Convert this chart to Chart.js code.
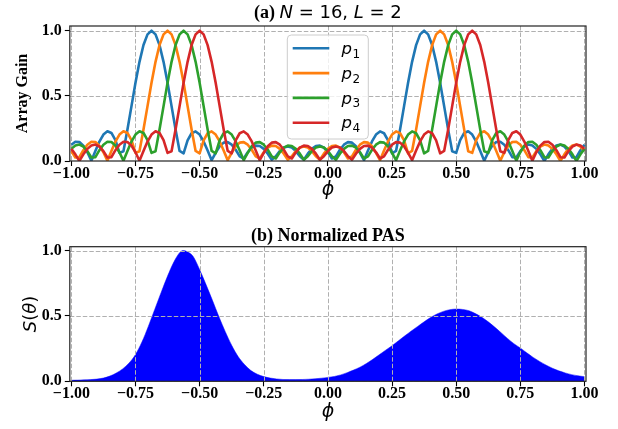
<!DOCTYPE html>
<html><head><meta charset="utf-8">
<script src="https://cdn.jsdelivr.net/npm/chart.js@4.4.0/dist/chart.umd.min.js"></script>
<style>
html,body{margin:0;padding:0;background:#fff;}
#wrap{position:relative;width:618px;height:429px;overflow:hidden;}
canvas{position:absolute;left:0;}
#c1{top:0;width:618px;height:222px;}
#c2{top:222px;width:618px;height:207px;}
</style></head><body>
<div id="wrap"><canvas id="c1" width="618" height="222"></canvas><canvas id="c2" width="618" height="207"></canvas></div>
<script>
// ---------- data ----------
const phi = [-1,-0.9844,-0.9688,-0.9531,-0.9375,-0.9219,-0.9063,-0.8906,-0.875,-0.8594,-0.8438,-0.8281,-0.8125,-0.7969,-0.7813,-0.7656,
-0.75,-0.7344,-0.7188,-0.7031,-0.6875,-0.6719,-0.6563,-0.6406,-0.625,-0.6094,-0.5938,-0.5781,-0.5625,-0.5469,-0.5313,-0.5156,
-0.5,-0.4844,-0.4688,-0.4531,-0.4375,-0.4219,-0.4063,-0.3906,-0.375,-0.3594,-0.3438,-0.3281,-0.3125,-0.2969,-0.2813,-0.2656,
-0.25,-0.2344,-0.2188,-0.2031,-0.1875,-0.1719,-0.1563,-0.1406,-0.125,-0.1094,-0.0938,-0.0781,-0.0625,-0.0469,-0.0313,-0.0156,
0,0.0156,0.0313,0.0469,0.0625,0.0781,0.0938,0.1094,0.125,0.1406,0.1563,0.1719,0.1875,0.2031,0.2188,0.2344,
0.25,0.2656,0.2813,0.2969,0.3125,0.3281,0.3438,0.3594,0.375,0.3906,0.4063,0.4219,0.4375,0.4531,0.4688,0.4844,
0.5,0.5156,0.5313,0.5469,0.5625,0.5781,0.5938,0.6094,0.625,0.6406,0.6563,0.6719,0.6875,0.7031,0.7188,0.7344,
0.75,0.7656,0.7813,0.7969,0.8125,0.8281,0.8438,0.8594,0.875,0.8906,0.9063,0.9219,0.9375,0.9531,0.9688,0.9844,1];

const p1 = [.125,.148,.146,.118,.067,.002,.077,.149,.203,.228,.215,.160,.062,.075,.241,.421,.600,.761,.890,.972,
1,.972,.889,.761,.600,.421,.242,.077,.059,.158,.213,.227,.203,.150,.081,.006,.062,.113,.141,.145,.125,.086,.035,.019,.067,.102,.118,.115,.093,.056,.010,.036,.076,.103,
.112,.103,.076,.036,.010,.056,.093,.115,.118,.102,.067,.019,.035,.086,.125,.145,.141,.113,.062,.006,.081,.150,.203,.227,.213,.158,.059,.077,.242,.421,.600,.761,.889,.972,
1,.972,.890,.761,.600,.421,.241,.075,.062,.160,.215,.228,.203,.149,.077,.002,.067,.118,.146,.148,.125,.083,.029,.027,.076,.111,.126,.119,.093,.051,0,.051,.093,.119,.126,.111,.076,.027,.029,.083,.125];

const p2 = [.076,.027,.029,.083,
.125,.148,.146,.118,.067,.002,.077,.149,.203,.228,.215,.160,.062,.075,.241,.421,.600,.761,.890,.972,
1,.972,.889,.761,.600,.421,.242,.077,.059,.158,.213,.227,.203,.150,.081,.006,.062,.113,.141,.145,.125,.086,.035,.019,.067,.102,.118,.115,.093,.056,.010,.036,.076,.103,
.112,.103,.076,.036,.010,.056,.093,.115,.118,.102,.067,.019,.035,.086,.125,.145,.141,.113,.062,.006,.081,.150,.203,.227,.213,.158,.059,.077,.242,.421,.600,.761,.889,.972,
1,.972,.890,.761,.600,.421,.241,.075,.062,.160,.215,.228,.203,.149,.077,.002,.067,.118,.146,.148,.125,.083,.029,.027,.076,.111,.126,.119,.093,.051,0,.051,.093,.119,.126,.111,.076];

const p3 = [.093,.119,.126,.111,.076,.027,.029,.083,
.125,.148,.146,.118,.067,.002,.077,.149,.203,.228,.215,.160,.062,.075,.241,.421,.600,.761,.890,.972,
1,.972,.889,.761,.600,.421,.242,.077,.059,.158,.213,.227,.203,.150,.081,.006,.062,.113,.141,.145,.125,.086,.035,.019,.067,.102,.118,.115,.093,.056,.010,.036,.076,.103,
.112,.103,.076,.036,.010,.056,.093,.115,.118,.102,.067,.019,.035,.086,.125,.145,.141,.113,.062,.006,.081,.150,.203,.227,.213,.158,.059,.077,.242,.421,.600,.761,.889,.972,
1,.972,.890,.761,.600,.421,.241,.075,.062,.160,.215,.228,.203,.149,.077,.002,.067,.118,.146,.148,.125,.083,.029,.027,.076,.111,.126,.119,.093,.051,0,.051,.093];

const p4 = [.093,.051,0,.051,.093,.119,.126,.111,.076,.027,.029,.083,
.125,.148,.146,.118,.067,.002,.077,.149,.203,.228,.215,.160,.062,.075,.241,.421,.600,.761,.890,.972,
1,.972,.889,.761,.600,.421,.242,.077,.059,.158,.213,.227,.203,.150,.081,.006,.062,.113,.141,.145,.125,.086,.035,.019,.067,.102,.118,.115,.093,.056,.010,.036,.076,.103,
.112,.103,.076,.036,.010,.056,.093,.115,.118,.102,.067,.019,.035,.086,.125,.145,.141,.113,.062,.006,.081,.150,.203,.227,.213,.158,.059,.077,.242,.421,.600,.761,.889,.972,
1,.972,.890,.761,.600,.421,.241,.075,.062,.160,.215,.228,.203,.149,.077,.002,.067,.118,.146,.148,.125,.083,.029,.027,.076,.111,.126,.119,.093];

const seriesNames = ['1','2','3','4'];
const seriesColors = ['#1f77b4','#ff7f0e','#2ca02c','#d62728'];

const phiPAS = [-1,-0.975,-0.95,-0.925,-0.9,-0.875,-0.85,-0.825,-0.8,-0.775,-0.75,-0.725,-0.7,-0.675,-0.65,-0.625,-0.6,-0.575,-0.5625,
-0.55,-0.525,-0.5,-0.475,-0.45,-0.425,-0.4,-0.375,-0.35,-0.325,-0.3,-0.275,-0.25,-0.225,-0.2,-0.175,-0.15,-0.125,-0.1,-0.075,-0.05,-0.025,0,
0.025,0.05,0.075,0.1,0.125,0.15,0.175,0.2,0.225,0.25,0.275,0.3,0.325,0.35,0.375,0.4,0.425,0.45,0.475,0.5,
0.525,0.55,0.575,0.6,0.625,0.65,0.675,0.7,0.725,0.75,0.775,0.8,0.825,0.85,0.875,0.9,0.925,0.95,0.975,1];
const pas = [.008,.009,.011,.013,.017,.025,.040,.063,.095,.140,.205,.300,.420,.550,.680,.805,.915,.990,1.0,
.993,.955,.855,.740,.620,.495,.380,.275,.190,.128,.082,.054,.036,.025,.018,.014,.013,.013,.014,.016,.019,.024,.030,
.037,.049,.066,.086,.108,.136,.168,.203,.238,.272,.310,.348,.385,.420,.455,.488,.515,.535,.548,.553,
.550,.540,.518,.490,.455,.415,.372,.328,.288,.255,.218,.183,.152,.124,.100,.080,.064,.051,.042,.035];

const xTicks = [-1,-0.75,-0.5,-0.25,0,0.25,0.5,0.75,1];
const xTickLabels = ['\u22121.00','\u22120.75','\u22120.50','\u22120.25','0.00','0.25','0.50','0.75','1.00'];
const yTicks = [0,0.5,1];
const yTickLabels = ['0.0','0.5','1.0'];

// ---------- helpers ----------
const SERIF = '"Liberation Serif","Times New Roman",serif';
const SANS = '"DejaVu Sans",sans-serif';
function drawRuns(ctx, runs, cx, baseline){
  let w = 0;
  runs.forEach(r => { ctx.font = r.font; w += ctx.measureText(r.t).width; });
  let x = cx - w/2;
  ctx.textAlign = 'left'; ctx.textBaseline = 'alphabetic'; ctx.fillStyle = '#000';
  runs.forEach(r => { ctx.font = r.font; ctx.fillText(r.t, x, baseline + (r.dy||0)); x += ctx.measureText(r.t).width; });
}
function gridLines(chart){
  const {ctx, chartArea:a, scales:{x,y}} = chart;
  ctx.save();
  ctx.beginPath(); ctx.rect(a.left, a.top, a.width, a.height); ctx.clip();
  ctx.strokeStyle = '#b0b0b0'; ctx.lineWidth = 1; ctx.setLineDash([4.5,2]);
  ctx.beginPath();
  xTicks.forEach(v => { const px = Math.round(x.getPixelForValue(v)) + 0.5; ctx.moveTo(px, a.top); ctx.lineTo(px, a.bottom); });
  yTicks.forEach(v => { const py = Math.round(y.getPixelForValue(v)) + 0.5; ctx.moveTo(a.left, py); ctx.lineTo(a.right, py); });
  ctx.stroke();
  ctx.restore();
}
function frame(chart){
  const {ctx, chartArea:a} = chart;
  ctx.save();
  ctx.strokeStyle = '#222'; ctx.lineWidth = 1.2; ctx.setLineDash([]);
  ctx.strokeRect(a.left, a.top, a.width, a.height);
  ctx.restore();
}
function axisCommon(min, max, ticks, labels, isX){
  return {
    type: 'linear', min: min, max: max,
    afterBuildTicks: s => { s.ticks = ticks.map(v => ({value: v})); },
    ticks: {
      autoSkip: false, maxRotation: 0, minRotation: 0, padding: isX ? -2 : 3,
      color: '#000', font: {family: SERIF, weight: 'bold', size: 16},
      callback: (v) => { const i = ticks.indexOf(v); return i >= 0 ? labels[i] : ''; }
    },
    grid: {drawOnChartArea: false, drawTicks: true, tickLength: 5, tickColor: '#000', tickWidth: 1.1, color: '#000'},
    border: {display: false}
  };
}

// ---------- chart (a) ----------
const topPlugin = {
  id: 'topDecor',
  beforeDatasetsDraw(chart){ gridLines(chart); },
  afterDraw(chart){
    const ctx = chart.ctx, a = chart.chartArea;
    frame(chart);
    const cx = (a.left + a.right)/2;
    drawRuns(ctx, [
      {t:'(a) ', font:'bold 18px ' + SERIF},
      {t:'N', font:'italic 18px ' + SANS},
      {t:' = 16, ', font:'18px ' + SANS},
      {t:'L', font:'italic 18px ' + SANS},
      {t:' = 2', font:'18px ' + SANS}
    ], cx, 18);
    drawRuns(ctx, [{t:'\u03d5', font:'italic 19px ' + SANS}], cx, 195);
    ctx.save();
    ctx.translate(27, (a.top + a.bottom)/2); ctx.rotate(-Math.PI/2);
    drawRuns(ctx, [{t:'Array Gain', font:'bold 16px ' + SERIF}], 0, 0);
    ctx.restore();
    // legend
    const bx = 287.3, by = 35, bw = 81, bh = 104, r = 4;
    ctx.save();
    ctx.beginPath();
    ctx.moveTo(bx + r, by); ctx.lineTo(bx + bw - r, by); ctx.arcTo(bx + bw, by, bx + bw, by + r, r);
    ctx.lineTo(bx + bw, by + bh - r); ctx.arcTo(bx + bw, by + bh, bx + bw - r, by + bh, r);
    ctx.lineTo(bx + r, by + bh); ctx.arcTo(bx, by + bh, bx, by + bh - r, r);
    ctx.lineTo(bx, by + r); ctx.arcTo(bx, by, bx + r, by, r); ctx.closePath();
    ctx.fillStyle = 'rgba(255,255,255,0.8)'; ctx.fill();
    ctx.strokeStyle = '#cccccc'; ctx.lineWidth = 1; ctx.stroke();
    seriesNames.forEach((n, i) => {
      const cy = 48.3 + i * 24.8;
      ctx.strokeStyle = seriesColors[i]; ctx.lineWidth = 2.6; ctx.lineCap = 'butt';
      ctx.beginPath(); ctx.moveTo(292.7, cy); ctx.lineTo(329.3, cy); ctx.stroke();
      ctx.fillStyle = '#000'; ctx.textAlign = 'left'; ctx.textBaseline = 'alphabetic';
      ctx.font = 'italic 16.5px ' + SANS; ctx.fillText('p', 341.5, cy + 5.7);
      const pw = ctx.measureText('p').width;
      ctx.font = '12px ' + SANS; ctx.fillText(n, 341.5 + pw + 0.5, cy + 9.5);
    });
    ctx.restore();
  }
};

const ds = [p1, p2, p3, p4].map((arr, i) => ({
  label: 'p' + seriesNames[i],
  data: phi.map((x, j) => ({x: x, y: arr[j]})),
  borderColor: seriesColors[i], backgroundColor: seriesColors[i],
  borderWidth: 2.6, pointRadius: 0, tension: 0, fill: false,
  borderJoinStyle: 'round', order: 4 - i
}));

new Chart(document.getElementById('c1'), {
  type: 'line',
  data: {datasets: ds},
  options: {
    responsive: false, animation: false, devicePixelRatio: 1,
    layout: {padding: {left: 0, right: 32, top: 26, bottom: 0}},
    plugins: {legend: {display: false}, tooltip: {enabled: false}, title: {display: false}},
    scales: {
      x: Object.assign(axisCommon(-1.006, 1.006, xTicks, xTickLabels, true), {afterFit: s => { s.height = 61; }}),
      y: Object.assign(axisCommon(0, 1.036, yTicks, yTickLabels, false), {afterFit: s => { s.width = 69.8; }})
    }
  },
  plugins: [topPlugin]
});

// ---------- chart (b) ----------
const botPlugin = {
  id: 'botDecor',
  afterDatasetsDraw(chart){ gridLines(chart); },
  afterDraw(chart){
    const ctx = chart.ctx, a = chart.chartArea;
    frame(chart);
    const cx = (a.left + a.right)/2;
    drawRuns(ctx, [{t:'(b) Normalized PAS', font:'bold 18px ' + SERIF}], cx, 19);
    drawRuns(ctx, [{t:'\u03d5', font:'italic 19px ' + SANS}], cx, 195);
    ctx.save();
    ctx.translate(36, (a.top + a.bottom)/2); ctx.rotate(-Math.PI/2);
    drawRuns(ctx, [
      {t:'S', font:'italic 18px ' + SANS},
      {t:'(', font:'18px ' + SANS},
      {t:'\u03b8', font:'italic 18px ' + SANS},
      {t:')', font:'18px ' + SANS}
    ], 0, 0);
    ctx.restore();
  }
};

new Chart(document.getElementById('c2'), {
  type: 'line',
  data: {datasets: [{
    label: 'PAS',
    data: phiPAS.map((x, j) => ({x: x, y: pas[j]})),
    borderColor: '#0000ff', backgroundColor: '#0000ff', borderWidth: 0.5,
    pointRadius: 0, fill: 'origin', cubicInterpolationMode: 'monotone'
  }]},
  options: {
    responsive: false, animation: false, devicePixelRatio: 1,
    layout: {padding: {left: 0, right: 32, top: 24.7, bottom: 0}},
    plugins: {legend: {display: false}, tooltip: {enabled: false}, title: {display: false}},
    scales: {
      x: Object.assign(axisCommon(-1.006, 1.006, xTicks, xTickLabels, true), {afterFit: s => { s.height = 47.7; }}),
      y: Object.assign(axisCommon(0, 1.03, yTicks, yTickLabels, false), {afterFit: s => { s.width = 69.8; }})
    }
  },
  plugins: [botPlugin]
});
</script>
</body></html>
